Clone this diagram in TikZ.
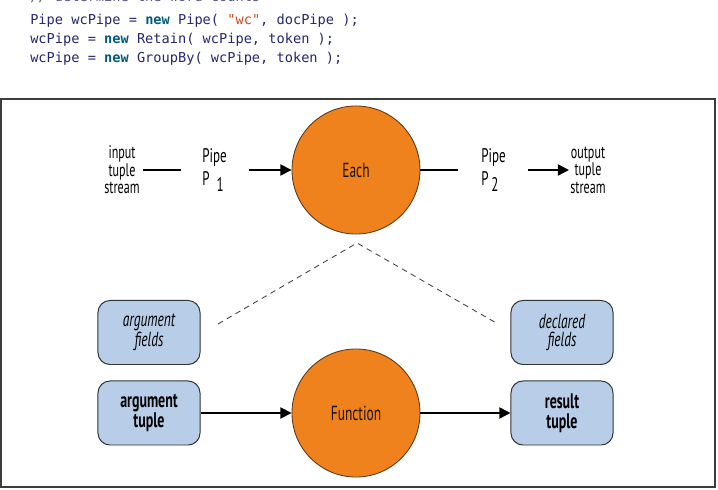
\documentclass[tikz,border=0pt]{standalone}
\usepackage{fontspec}
\setmonofont{DejaVu Sans Mono}
\newfontfamily\figfont{PT Sans}[FakeStretch=0.66]
\usetikzlibrary{arrows.meta}

\definecolor{codetext}{RGB}{38,38,112}
\definecolor{codekey}{RGB}{0,92,124}
\definecolor{codestr}{RGB}{204,72,28}
\definecolor{codecmt}{RGB}{90,90,140}
\definecolor{frameline}{RGB}{60,60,60}
\definecolor{fnorange}{RGB}{240,130,30}
\definecolor{fnedge}{RGB}{90,55,20}
\definecolor{fieldblue}{RGB}{184,206,232}
\definecolor{boxedge}{RGB}{50,50,55}

\tikzset{
  codeline/.style={anchor=base west, inner sep=0pt, text=codetext,
    font=\fontsize{9.7}{13}\selectfont\ttfamily},
  opcircle/.style={circle, draw=fnedge, fill=fnorange, line width=0.6pt,
    minimum size=3.2cm, inner sep=0pt, text=black!85!brown,
    font=\figfont\fontsize{14.5}{15}\selectfont},
  fieldbox/.style={rectangle, rounded corners=0.3cm, draw=boxedge, fill=fieldblue,
    line width=0.7pt, minimum width=2.55cm, minimum height=1.6cm, align=center,
    inner sep=0pt},
  fieldname/.style={fieldbox, font=\figfont\fontsize{14.5}{13.2}\selectfont\itshape},
  tuplename/.style={fieldbox, font=\figfont\fontsize{15}{14.2}\selectfont\bfseries},
  streamtext/.style={align=center, inner sep=0pt,
    font=\figfont\fontsize{13}{12.4}\selectfont},
  pipetext/.style={align=left, inner sep=0pt,
    font=\figfont\fontsize{14}{16}\selectfont},
  flow/.style={line width=1.1pt, -{Triangle[length=2.8mm,width=2.8mm]}},
  plain/.style={line width=1.1pt},
  fieldlink/.style={draw=black!75, line width=0.6pt, dash pattern=on 4pt off 3.2pt}
}

\begin{document}
\begin{tikzpicture}[x=0.025cm, y=-0.025cm]
  \useasboundingbox (0,0) rectangle (718,490);
  \clip (0,0) rectangle (718,490);

  % code snippet above the figure
  \node[codeline, text=codecmt] (cmt) at (30,2) {// determine the word counts};
  \node[codeline] (code1) at (30,24.5) {Pipe wcPipe = \textbf{\color{codekey}new} Pipe( {\color{codestr}"wc"}, docPipe );};
  \node[codeline] (code2) at (30,43.5) {wcPipe = \textbf{\color{codekey}new} Retain( wcPipe, token );};
  \node[codeline] (code3) at (30,62.5) {wcPipe = \textbf{\color{codekey}new} GroupBy( wcPipe, token );};

  % figure frame
  \draw[frameline, line width=1.1pt] (1,99) rectangle (715,487);

  % pipe assembly
  \node[opcircle] (each) at (356,170) {Each};
  \node[streamtext] (instream) at (122,170) {input\\tuple\\stream};
  \node[streamtext] (outstream) at (588,170) {output\\tuple\\stream};
  \node[pipetext, anchor=west] (pipe1) at (202,170) {Pipe\\P\hspace{5pt}\raisebox{-4pt}{1}};
  \node[pipetext, anchor=west] (pipe2) at (481,170) {Pipe\\P\hspace{2pt}\raisebox{-4pt}{2}};

  \coordinate (inA) at (143,170);
  \coordinate (inB) at (181,170);
  \coordinate (p1out) at (249,170);
  \coordinate (outA) at (458,170);
  \coordinate (p2out) at (528,170);
  \coordinate (outB) at (569,170);

  \draw[plain] (inA) -- (inB);
  \draw[flow] (p1out) -- (each.west);
  \draw[plain] (each.east) -- (outA);
  \draw[flow] (p2out) -- (outB);

  % inside the operation
  \node[opcircle] (func) at (356,413) {Function};
  \node[fieldname] (argfields) at (149,332.5) {argument\\fields};
  \node[tuplename] (argtuple) at (149,413) {argument\\tuple};
  \node[fieldname] (declfields) at (562,332.5) {declared\\fields};
  \node[tuplename] (restuple) at (562,413) {result\\tuple};

  \draw[flow] (argtuple) -- (func);
  \draw[flow] (func) -- (restuple);

  \coordinate (apex) at (357,243);
  \coordinate (dashL) at (218,324);
  \coordinate (dashR) at (498,324);
  \draw[fieldlink] (dashL) -- (apex) -- (dashR);
\end{tikzpicture}
\end{document}
